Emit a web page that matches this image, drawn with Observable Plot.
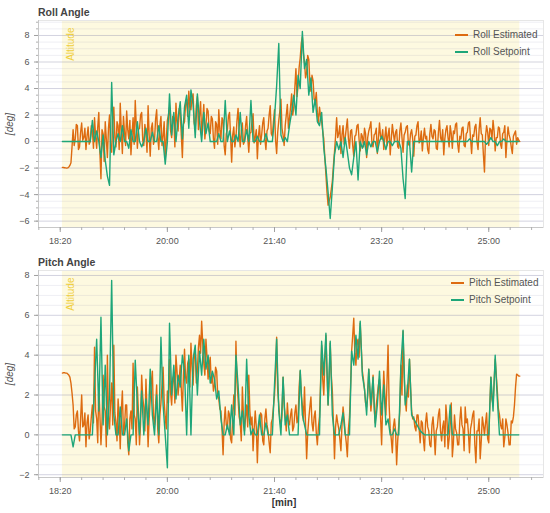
<!DOCTYPE html>
<html>
<head>
<meta charset="utf-8">
<script src="https://cdn.jsdelivr.net/npm/d3@7"></script>
<script src="https://cdn.jsdelivr.net/npm/@observablehq/plot@0.6"></script>
<style>
  body { margin: 0; background: #fff; font-family: "Liberation Sans", Arial, sans-serif; }
  #page { position: relative; width: 550px; height: 513px; overflow: hidden; }
  .abs { position: absolute; white-space: nowrap; }
  .title { font-weight: bold; font-size: 10.5px; color: #444; line-height: 1; }
  .ylab { font-style: italic; font-size: 10px; color: #555; transform: translate(-50%, -50%) rotate(-90deg); line-height: 1; }
  .xlab { font-weight: bold; font-size: 10px; color: #333; transform: translate(-50%, -50%); line-height: 1; }
  .leg { font-size: 10px; color: #555; line-height: 1; transform: translateY(-50%); }
  .legline { height: 2px; width: 13px; transform: translateY(-50%); }
</style>
</head>
<body>
<div id="page"></div>
<script>
// ---- data ----
// estimated series: one value per second starting at 1102 s
// setpoint series: one value every 2 s starting at 1102 s
const t0 = 1102;
const dtEstimated = 1;
const dtSetpoint = 2;

const rollEstimated = [
  -1.95, -1.96, -1.97, -1.98, -2.0, -1.98, -1.92, -1.8, -1.6, -0.4,
  0.9, -0.3, 0.2, 1.3, 1.2, -0.6, -0.4, 0.7, 1.4, 0.1,
  0.3, 1.0, -0.6, 0.4, 1.1, -0.2, 0.0, 1.2, 0.8, -0.5,
  1.8, 0.4, -0.5, 1.1, 2.2, -0.8, -2.8, 0.9, 0.6, -1.5,
  1.5, 0.2, -1.2, 1.0, 2.0, -0.5, -0.8, 1.7, 2.6, 0.3,
  -0.4, 1.5, 1.2, -0.6, 2.9, 0.8, -0.9, 1.9, 0.7, -0.3,
  2.3, 0.9, 0.2, 1.6, -1.0, 0.5, 1.8, -0.2, 3.1, 1.2,
  -0.5, 0.9, 1.0, 2.0, 2.2, 0.1, -0.3, 1.3, 0.6, -0.8,
  2.7, 0.5, -1.1, 1.0, 1.4, -0.2, 0.1, 1.7, 2.4, 0.3,
  -0.6, 1.2, 1.9, -0.3, 0.4, 1.5, -1.3, 0.2, 1.6, 2.0,
  2.6, 0.8, 0.3, 1.9, 1.8, -0.4, 2.9, 1.5, 0.8, 2.5,
  2.2, 0.5, -1.2, 1.3, 1.5, 2.8, 3.2, 1.9, 3.8, 2.6,
  2.4, 3.3, 3.6, 1.4, 1.0, 2.7, 3.4, 0.9, 2.0, 3.0,
  0.5, 1.6, 2.8, 0.2, 1.2, 2.5, 2.3, 0.8, 0.6, 1.9,
  1.7, 0.2, -0.5, 1.5, 1.3, -0.2, 2.4, 0.9, 0.2, 1.8,
  1.6, -0.3, -1.0, 0.6, 0.9, 1.9, 2.2, 0.4, -1.55, 0.5,
  1.1, -0.4, 0.3, 1.6, 2.5, 0.7, -0.4, 0.8, 1.4, -0.2,
  0.0, 1.2, 1.9, 0.3, -0.8, 0.6, 0.7, 1.5, 2.1, -0.1,
  0.3, 0.9, -1.3, 0.4, 1.2, -0.2, 0.5, 1.4, 1.8, 0.2,
  -0.6, 0.8, 1.0, 2.0, 2.7, 0.6, 0.4, 1.5, 2.4, 0.1,
  -0.9, 0.7, 1.6, 2.3, 3.2, 1.0, 0.5, -0.3, 1.2, 2.0,
  2.8, 1.0, 1.8, 2.6, 3.6, 2.0, 2.6, 4.1, 5.5, 3.4,
  4.2, 5.6, 6.3, 7.4, 7.9, 6.6, 6.0, 4.8, 5.2, 6.5,
  6.2, 4.5, 3.8, 5.0, 4.6, 3.2, 3.0, 3.7, 2.2, 1.4,
  2.6, 1.9, 1.5, 0.8, 0.2, -1.2, -2.5, -3.8, -4.8, -4.5,
  -4.2, -3.6, -3.0, -1.8, -0.8, 0.4, 1.8, 0.3, 0.6, 1.2,
  -0.9, 0.5, 1.2, -0.2, 0.3, 1.0, 1.7, 0.2, -0.5, 0.8,
  0.9, -0.3, -1.1, 0.4, 0.5, 1.2, 1.3, 0.1, -0.7, 0.6,
  0.4, -0.4, 1.0, 0.6, -1.2, 0.3, 0.8, 1.1, 1.5, -0.2,
  -0.4, 0.5, 0.6, 1.0, -0.9, 0.2, 1.4, 0.4, 0.2, 0.9,
  -0.6, 0.3, 1.1, -0.3, 0.5, 1.0, -1.0, 0.2, 1.3, 0.6,
  0.0, 0.7, 0.9, -0.4, -0.5, 0.8, 1.4, 0.3, -0.8, 0.5,
  0.7, 1.1, 1.2, -0.2, -0.3, 0.6, 0.9, 0.2, -1.1, 0.4,
  0.5, 1.2, 1.5, -0.1, 0.1, 0.8, -0.7, 0.3, 1.0, 0.2,
  0.4, -0.6, -0.9, 0.6, 1.3, 0.4, 0.2, 0.9, 0.8, -0.5,
  -0.6, 0.7, 1.6, 0.3, 0.0, 0.9, -1.0, 0.2, 0.9, 1.2,
  0.3, -0.4, 1.2, 0.6, -0.5, 0.8, 0.6, 1.3, 1.4, -0.2,
  -0.8, 0.4, 0.2, 1.0, 1.1, -0.3, -0.4, 0.6, 0.7, 1.4,
  1.5, 0.2, -0.9, 0.5, 0.4, 1.1, 1.3, 0.0, -0.6, 0.9,
  1.8, 0.6, 0.5, -1.0, -2.3, 0.4, 1.2, 0.7, -0.3, 1.0,
  0.9, 0.2, 1.6, 0.8, -0.7, 0.3, 0.3, 1.1, 1.0, -0.2,
  -0.5, 0.6, 0.7, 1.2, -1.2, 0.1, 1.1, 0.5, 0.2, -0.4,
  -0.9, 0.4, 0.6, 0.8, -0.2, 0.3, 0.1, 0.0
];

const rollSetpoint = [
  0, 0, 0, 0, 0, 0, 0, 0, 0, 0, 0, 0, 0, 0,
  1.6, 0, 0.8, 0, -1.2, 0.5, -1.4, -2.6, -3.3, 4.45,
  -1.0, 0, 0.6, 0, 1.2, 0, 0, -0.5, 0.9, 0, 0, 1.5, 0, -0.4, 0, 1.0, 0, 0, 0.7, 0, 0, 1.2, 0, 0, -1.7, 0,
  3.6, 0.5, 2.2, 0, 1.8, 3.0, 0.2, 2.6, 3.5, 1.0, 3.9, 2.8, 0.3, 3.6, 1.5, 0, 2.2, 0.6, 1.4, 0, 0,
  0, 0, 0.6, 0, 0, 3.1, 0, 0.8, 0, 0, 0.5, 0, 2.2, 0, 0, 0.9, 0, 3.1, 0, 0, 0.4, 0, 0, 0, 0.6, 0, 0,
  0, 1.8, 4.2, 7.4, 0.5, 0, 0.3, 0, 1.2, 2.2,
  3.5, 2.0, 5.0, 4.0, 8.3, 5.5,
  6.2, 3.5, 4.8, 2.2, 3.2, 1.5, 1.2, 2.2, -0.5, -2.0, -3.8, -5.8, -3.5, -1.0,
  0, -0.6, 0, -1.2, 0.3, -0.8, -2.0, -2.5, -1.2, 0, -2.9, 0, -0.5, 0, -1.0, 0, -0.4, 0, 0, -0.8, 0, 0.4, 0, -0.6, 0, 0, -0.3, 0, 0, 0,
  -0.5, -2.8, -4.3, 0, 0, -2.3, 0,
  0, 0, 0, 0, 0, 0, 0, 0, 0, 0, 0, 0, 0, 0, 0, 0, 0, 0, 0, 0, 0, 0, 0, 0, 0,
  0.2, 0, 0, 0, 0, 0, 0, 0, -0.2, 0, 0.3, 0, 0, -0.3, 0, 0, 0.2,
  0, 0, 0, 0, 0, 0, 0
];

const pitchEstimated = [
  3.1, 3.12, 3.12, 3.1, 3.1, 3.05, 3.0, 2.9, 2.6, 2.1,
  1.5, 0.3, 0.4, 1.0, 1.2, 0.2, -0.3, 0.8, 2.0, 0.4,
  0.5, 1.1, -0.6, 0.6, 1.0, -0.2, 0.2, 0.9, 1.5, 0.6,
  4.4, 1.2, 0.8, -0.4, 2.5, 1.0, -0.5, 0.7, 3.0, 1.4,
  1.2, -0.6, 4.0, 0.9, 0.3, 1.6, 2.6, 0.5, 4.5, 1.1,
  0.6, -0.3, 1.8, 0.9, -0.7, 1.2, 2.2, 0.0, 0.4, 1.5,
  1.5, -0.4, -1.0, 0.8, 1.2, 0.3, 3.6, 1.0, 0.8, -0.5,
  2.4, 1.1, -0.5, 0.6, 3.0, 1.9, 1.4, 0.2, 2.8, 1.2,
  -0.6, 0.8, 1.8, 2.6, 3.2, 0.9, 0.5, 1.5, 2.5, 0.3,
  -0.4, 1.0, 1.6, 2.5, 3.4, 1.7, 0.9, 0.3, 2.2, 1.6,
  3.8, 2.1, 1.5, 2.8, 3.0, 1.6, 4.0, 3.2, 2.0, 2.7,
  3.5, 2.3, 1.2, 3.0, 4.3, 2.9, 2.6, 3.6, 3.8, 2.4,
  4.6, 3.4, 2.5, 4.0, 4.2, 2.6, 3.2, 4.4, 5.0, 4.1,
  5.7, 4.6, 3.6, 3.0, 4.8, 3.9, 2.8, 3.5, 3.9, 2.6,
  3.0, 2.2, 2.5, 3.4, 3.2, 2.0, 1.8, 1.3, 1.2, 0.3,
  -1.0, 0.6, 1.4, 0.5, 0.3, 1.2, 1.0, -0.2, -0.4, 0.9,
  2.0, 1.0, 4.7, 2.6, 1.8, 0.9, 0.6, -0.3, 2.4, 1.0,
  0.2, 0.9, 1.5, 0.4, 3.0, 1.2, 0.5, 0.9, -0.8, 0.3,
  1.2, 0.4, -1.4, 0.2, 0.6, 1.1, 1.0, -0.3, -0.5, 0.8,
  1.3, 0.5, 0.2, -0.4, -0.9, 0.6, 0.8, 1.4, 2.0, 3.1,
  4.9, 2.2, 1.5, 0.8, 0.4, 1.0, 2.9, 1.5, 0.9, 0.2,
  1.6, 0.7, 0.5, 1.0, 1.3, 0.2, 0.4, 1.1, 1.5, 0.6,
  0.8, 2.4, 3.2, 2.0, 1.5, 0.7, 2.4, 0.5, -1.2, 0.1,
  0.8, 1.4, 1.9, 0.6, 0.2, 0.9, 1.2, 0.1, -0.5, 0.4,
  0.9, 2.6, 4.5, 2.8, 2.0, 3.6, 5.0, 3.1, 1.5, 2.7,
  4.6, 3.0, 2.2, 0.6, -1.2, 0.4, 1.0, 0.6, 0.3, -0.2,
  -0.8, 0.5, 1.4, 0.8, 0.1, -0.4, -1.1, 0.3, 0.9, 2.4,
  4.2, 5.0, 5.85, 4.1, 3.5, 4.6, 4.8, 3.9, 5.6, 4.4,
  3.2, 2.8, 2.3, 1.6, 1.4, 2.0, 3.3, 2.1, 1.2, 1.9,
  3.0, 1.4, 0.6, 1.5, 2.0, 2.5, 2.8, 0.9, -0.5, 1.6,
  3.2, 2.0, 1.0, 2.6, 4.5, 1.5, 0.3, -0.2, -0.9, 0.4,
  0.8, 0.2, -1.5, -0.3, 0.5, 1.2, 3.5, 2.0, 5.2, 3.0,
  1.8, 1.2, 2.5, 1.9, 3.8, 2.4, 1.2, 0.8, 0.9, 0.4,
  0.2, 1.0, 1.0, 0.3, -0.4, 0.7, 0.6, -0.2, -0.8, 0.6,
  1.1, 0.4, 0.2, -0.5, -0.6, 0.5, 0.9, 0.1, -1.0, 0.2,
  0.4, 1.0, 1.3, 0.2, -0.3, 0.4, 0.7, -0.6, 1.5, 0.8,
  -0.7, -0.2, 0.5, 1.6, -1.1, -0.4, 1.0, 0.3, 0.1, -0.5,
  -0.5, 0.7, 1.4, 0.5, 0.3, -0.8, 1.4, 0.6, 0.8, 0.1,
  -0.9, 0.3, 0.6, 1.0, 1.2, -0.5, -1.4, 0.2, 0.2, 0.8,
  -1.2, -0.3, 0.9, 0.5, 0.0, 0.6, 1.1, -0.2, -0.4, 1.5,
  2.9, 1.8, 1.5, 2.6, 3.8, 3.0, 2.2, 1.3, 1.0, 0.5,
  0.3, 0.8, -0.6, -0.1, 0.8, 0.5, 0.1, -0.5, -0.5, 0.7,
  0.6, 0.9, 1.5, 2.4, 3.05, 3.0, 2.95, 2.95
];

const pitchSetpoint = [
  0, 0, 0, 0, 0,
  -0.6,
  0, 0, 0, 0, 0, 0, 0, 0,
  0, 2.5, 4.8, 1.2, 5.9, 0.5, 3.5, 0, 2.0, 7.75,
  1.0, 0, 0, 1.4, 0, 0, 0.8, -0.8, 0,
  0, 3.75, 1.5, 0, 2.2, 0, 1.8, 0.5, 3.3, 1.0, 0, 2.0, 0, 4.9, 1.5, 0,
  -1.65, 5.6, 2.0, 3.5, 1.8, 3.0, 2.4, 4.0, 3.2, 0, 4.0,
  0, 3.8, 4.5, 2.0, 4.2, 3.0, 4.8, 3.3, 4.0, 2.6, 3.2,
  2.8, 1.8, 2.2, 0.8, 0,
  0, 0.5, 0, 1.5, 0, 4.0, 2.5, 0.5, 1.2, 0, 3.8, 1.0,
  0, 0.3, 0, 0, 1.0, 0, 0, 0.6, 0, 0,
  0, 2.5, 4.8, 1.2, 0, 2.9, 0.5, 1.0, 0,
  0, 0, 0, 0,
  3.25, 1.0, 0.5,
  0, 0, 0, 0, 0, 0, 0,
  4.7, 3.0, 5.1, 1.5, 4.7, 1.0, 0,
  0, 0, 0.5, 1.1, 0, 0, 0,
  4.2, 3.5, 5.0, 3.8, 5.7,
  3.0, 2.3, 1.0,
  3.3, 1.5, 2.9, 0.4, 1.5, 3.2, 1.0, 2.5, 0.5,
  0.8, 0, 0, 0.3, 0, 0,
  3.5, 5.25, 1.5, 2.2, 3.8, 1.0,
  0.8, 0.6, 0.4, 0.2, 0.1,
  0, 0, 0, 0, 0, 0, 0, 0, 0, 0, 0, 0,
  1.5,
  0, 0, 0, 0, 0, 0, 0, 0, 0, 0, 0, 0, 0, 0, 0, 0, 0, 0,
  2.9, 1.2, 4.0, 1.8, 0,
  0, 0, 0, 0, 0, 0, 0, 0, 0
];

// Altitude highlight span (s)
const altitudeSpan = [1102, 1529];

// axes
const xDomain = [1079.7, 1551.1];
const xMajorTicks = [1100, 1200, 1300, 1400, 1500];
const xMinorTicks = d3.range(1080, 1551, 20);
const rollYDomain = [-6.48, 9.13];
const rollYMajor = [-6, -4, -2, 0, 2, 4, 6, 8];
const rollYMinor = d3.range(-6, 9.01, 0.5);
const pitchYDomain = [-2.14, 8.25];
const pitchYMajor = [-2, 0, 2, 4, 6, 8];
const pitchYMinor = d3.range(-2, 8.01, 0.5);

const colorEst = "#dd6b10";
const colorSp = "#1ea679";

function series(values, dt) {
  return values.map((v, i) => ({t: t0 + i * dt, v}));
}
const fmtTime = t => `${Math.floor(t / 60)}:${String(t % 60).padStart(2, "0")}`;

function panel({est, sp, yDomain, yMajor, yMinor, height, marginBottom}) {
  return Plot.plot({
    width: 550,
    height,
    marginLeft: 38,
    marginRight: 7,
    marginTop: 2,
    marginBottom,
    style: {background: "transparent", fontFamily: "Liberation Sans, Arial, sans-serif"},
    x: {domain: xDomain},
    y: {domain: yDomain},
    marks: [
      Plot.rect([altitudeSpan], {x1: d => d[0], x2: d => d[1], fill: "#fdf9e0"}),
      Plot.ruleY(yMinor, {stroke: "#9090b0", strokeOpacity: 0.14, strokeWidth: 1}),
      Plot.ruleY(yMajor, {stroke: "#9090b0", strokeOpacity: 0.28, strokeWidth: 1}),
      Plot.text([altitudeSpan[0]], {x: d => d, frameAnchor: "top", rotate: -90, textAnchor: "end",
        text: () => "Altitude", dx: 5, dy: 7, fill: "#f0cf3c", fontSize: 10}),
      Plot.frame({stroke: "#e6e6e6"}),
      Plot.ruleX([xDomain[0]], {stroke: "#c8c8c8"}),
      Plot.ruleY([yDomain[0]], {stroke: "#c8c8c8"}),
      Plot.line(series(est, dtEstimated), {x: "t", y: "v", stroke: colorEst, strokeWidth: 1.4}),
      Plot.line(series(sp, dtSetpoint), {x: "t", y: "v", stroke: colorSp, strokeWidth: 1.4}),
      Plot.axisX(xMinorTicks, {tickSize: 3, text: null, stroke: "#b0b0b0", label: null}),
      Plot.axisX(xMajorTicks, {tickSize: 5, tickPadding: 5, tickFormat: fmtTime, fontSize: 9,
        stroke: "#a0a0a0", fill: "#555", label: null}),
      Plot.axisY(yMinor, {tickSize: 2, text: null, stroke: "#b0b0b0", label: null}),
      Plot.axisY(yMajor, {tickSize: 4, tickPadding: 5, fontSize: 9, stroke: "#a0a0a0", fill: "#555", label: null})
    ]
  });
}

const page = document.getElementById("page");
function addDiv(cls, text, style) {
  const d = document.createElement("div");
  d.className = "abs " + cls;
  d.textContent = text;
  Object.assign(d.style, style);
  page.appendChild(d);
  return d;
}

// Panel 1
addDiv("title", "Roll Angle", {left: "38px", top: "7px"});
const p1 = panel({est: rollEstimated, sp: rollSetpoint, yDomain: rollYDomain, yMajor: rollYMajor,
  yMinor: rollYMinor, height: 232, marginBottom: 23});
p1.style.position = "absolute"; p1.style.left = "0px"; p1.style.top = "18px";
page.appendChild(p1);
addDiv("ylab", "[deg]", {left: "10px", top: "124px"});

// Panel 2
addDiv("title", "Pitch Angle", {left: "38px", top: "257px"});
const p2 = panel({est: pitchEstimated, sp: pitchSetpoint, yDomain: pitchYDomain, yMajor: pitchYMajor,
  yMinor: pitchYMinor, height: 245, marginBottom: 36});
p2.style.position = "absolute"; p2.style.left = "0px"; p2.style.top = "268px";
page.appendChild(p2);
addDiv("ylab", "[deg]", {left: "10px", top: "374px"});
addDiv("xlab", "[min]", {left: "284px", top: "503px"});

// Legends
function legend(items, x, y0) {
  items.forEach(([label, color], k) => {
    const y = y0 + k * 17;
    addDiv("legline", "", {left: x + "px", top: y + "px", background: color});
    addDiv("leg", label, {left: (x + 18) + "px", top: y + "px"});
  });
}
legend([["Roll Estimated", colorEst], ["Roll Setpoint", colorSp]], 455, 35);
legend([["Pitch Estimated", colorEst], ["Pitch Setpoint", colorSp]], 451, 283);
</script>
</body>
</html>
